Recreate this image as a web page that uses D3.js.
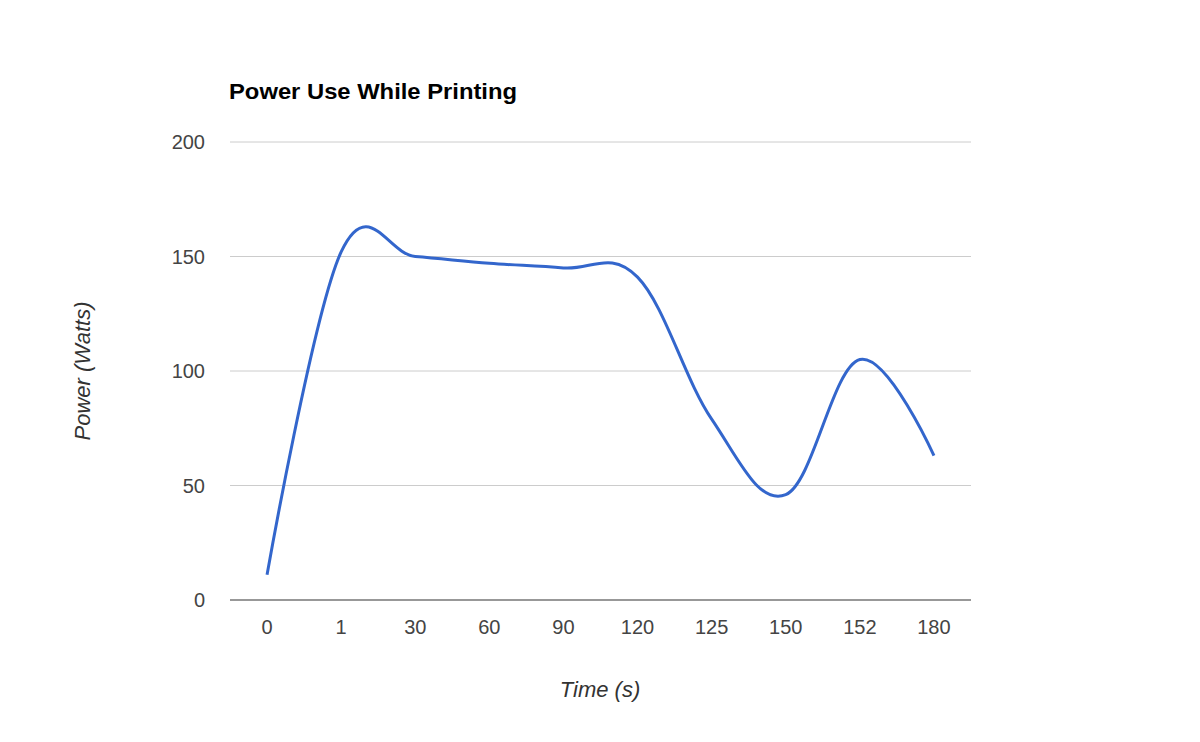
<!DOCTYPE html>
<html><head><meta charset="utf-8">
<script src="https://cdn.jsdelivr.net/npm/d3@7"></script>
<style>body{margin:0;background:#fff}</style></head>
<body><svg id="c" width="1200" height="742"></svg>
<script>
const categories = ["0","1","30","60","90","120","125","150","152","180"];
const power = [11,152,150,147,145,141,79,46,105,63];
const yTicks = [0,50,100,150,200];

const svg = d3.select("#c");
const font = "Liberation Sans, Arial, sans-serif";
const x = d3.scalePoint().domain(categories).range([230,971]).padding(0.5);
const y = d3.scaleLinear().domain([0,200]).range([600,142]);

svg.append("g").selectAll("line").data(yTicks.filter(d=>d>0)).join("line")
  .attr("x1",230).attr("x2",971).attr("y1",d=>y(d)).attr("y2",d=>y(d))
  .attr("stroke","#ccc").attr("stroke-width",1);
svg.append("line").attr("x1",230).attr("x2",971).attr("y1",y(0)).attr("y2",y(0))
  .attr("stroke","#333").attr("stroke-width",1.2);

svg.append("g").selectAll("text").data(yTicks).join("text")
  .attr("x",205).attr("y",d=>y(d)+7).attr("text-anchor","end")
  .attr("font-family",font).attr("font-size",20).attr("fill","#444").text(d=>d);
svg.append("g").selectAll("text").data(categories).join("text")
  .attr("x",d=>x(d)).attr("y",634).attr("text-anchor","middle")
  .attr("font-family",font).attr("font-size",20).attr("fill","#444").text(d=>d);

svg.append("path").datum(power)
  .attr("d",d3.line().x((d,i)=>x(categories[i])).y(d=>y(d)).curve(d3.curveCardinal.tension(-0.1)))
  .attr("fill","none").attr("stroke","#3366cc").attr("stroke-width",3);

svg.append("text").attr("x",229).attr("y",99).attr("font-family",font)
  .attr("font-size",22).attr("font-weight","bold").attr("fill","#000")
  .attr("textLength",288).attr("lengthAdjust","spacingAndGlyphs").text("Power Use While Printing");
svg.append("text").attr("x",600).attr("y",697).attr("text-anchor","middle").attr("font-family",font)
  .attr("font-size",22).attr("font-style","italic").attr("fill","#333").text("Time (s)");
svg.append("text").attr("transform","translate(90,371) rotate(-90)").attr("text-anchor","middle").attr("font-family",font)
  .attr("font-size",22).attr("font-style","italic").attr("fill","#333").text("Power (Watts)");
</script></body></html>
